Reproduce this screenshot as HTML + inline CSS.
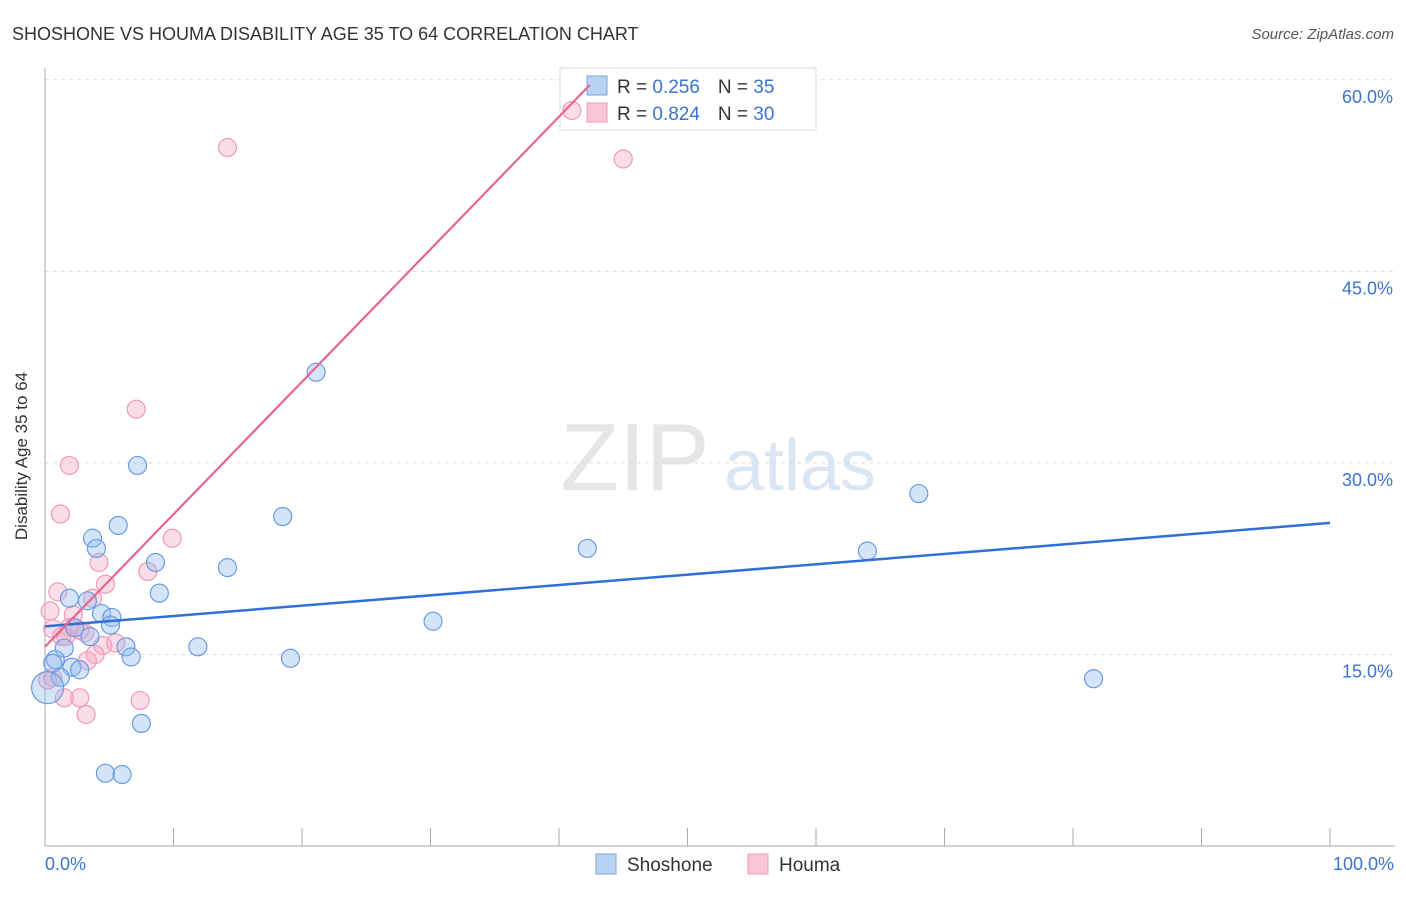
<!DOCTYPE html>
<html><head><meta charset="utf-8"><style>
body{margin:0;background:#fff;font-family:"Liberation Sans",sans-serif;}
svg text{font-family:"Liberation Sans",sans-serif;}
</style></head><body>
<svg width="1406" height="892">
<text x="12" y="40" font-size="18" fill="#333">SHOSHONE VS HOUMA DISABILITY AGE 35 TO 64 CORRELATION CHART</text>
<text x="1394" y="39" font-size="15" fill="#555" text-anchor="end" font-style="italic">Source: ZipAtlas.com</text>
<text x="635" y="490" font-size="96" fill="#e6e6e6" font-family="Liberation Serif" text-anchor="middle">ZIP</text>
<text x="800" y="490" font-size="72" fill="#dbe6f5" text-anchor="middle">atlas</text>
<g id="grid"></g>
<g id="axes"></g>
<g>
<rect x="560" y="68" width="256" height="62" fill="#fff" stroke="#ddd"/>
<rect x="587" y="76" width="20" height="19" fill="#b9d3f5" stroke="#7ea6e0"/>
<rect x="587" y="103" width="20" height="19" fill="#f8c6d5" stroke="#f09ab5"/>
<text x="617" y="93" font-size="19" fill="#333">R = <tspan fill="#3b73d0">0.256</tspan><tspan dx="18">N = </tspan><tspan fill="#3b73d0"> 35</tspan></text>
<text x="617" y="120" font-size="19" fill="#333">R = <tspan fill="#3b73d0">0.824</tspan><tspan dx="18">N = </tspan><tspan fill="#3b73d0"> 30</tspan></text>
</g>
<g id="pts"></g>
<g id="lines"></g>
<text x="27" y="456" font-size="17" fill="#333" text-anchor="middle" transform="rotate(-90 27 456)">Disability Age 35 to 64</text>
<text x="45" y="870" font-size="18" fill="#3b73d0">0.0%</text>
<text x="1394" y="870" font-size="18" fill="#3b73d0" text-anchor="end">100.0%</text>
<g>
<rect x="596" y="854" width="20" height="20" fill="#b9d3f5" stroke="#7ea6e0"/>
<text x="627" y="871" font-size="19" fill="#333">Shoshone</text>
<rect x="748" y="854" width="20" height="20" fill="#f8c6d5" stroke="#f09ab5"/>
<text x="779" y="871" font-size="19" fill="#333">Houma</text>
</g>
</svg>
<script>
const yTicks=[15,30,45,60];
const xTicks=[0,10,20,30,40,50,60,70,80,90,100];
const blueX=[21.1,7.2,18.5,68.0,5.7,3.7,4.0,42.2,64.0,8.6,14.2,8.9,1.9,3.3,4.4,5.2,5.1,2.3,3.5,30.2,1.5,6.3,11.9,6.7,19.1,0.8,0.6,2.1,2.7,1.2,81.6,0.2,7.5,4.7,6.0];
const blueY=[37.1,29.8,25.8,27.6,25.1,24.1,23.3,23.3,23.1,22.2,21.8,19.8,19.4,19.2,18.2,17.9,17.3,17.1,16.4,17.6,15.5,15.6,15.6,14.8,14.7,14.6,14.3,14.0,13.8,13.2,13.1,12.4,9.6,5.7,5.6];
const pinkX=[14.2,45.0,41.0,7.1,1.9,1.2,9.9,4.2,8.0,4.7,1.0,3.7,0.4,2.2,1.9,0.6,1.6,3.1,4.5,5.5,3.9,3.3,0.6,2.7,1.5,7.4,3.2,0.2,2.7,1.3];
const pinkY=[54.7,53.8,57.6,34.2,29.8,26.0,24.1,22.2,21.5,20.5,19.9,19.4,18.4,18.1,17.1,17.0,16.4,16.7,15.7,15.9,15.0,14.5,13.2,11.6,11.6,11.4,10.3,13.0,16.9,16.4];
const blueLine=[[0,17.2],[100,25.3]];
const pinkLine=[[0,15.6],[42.4,59.6]];
const NS='http://www.w3.org/2000/svg';
const X=v=>45+v*12.85, Y=v=>846-v*12.77;
function mk(t,a,p){const e=document.createElementNS(NS,t);for(const k in a)e.setAttribute(k,a[k]);document.getElementById(p).appendChild(e);return e;}
yTicks.forEach(t=>{
 const l=mk('line',{x1:45,x2:1395,y1:Y(t),y2:Y(t),stroke:'#ddd','stroke-dasharray':'4 4'},'grid');
 
 
 const tx=mk('text',{x:1393,y:Y(t)+23,'font-size':18,fill:'#3b73d0','text-anchor':'end'},'grid');
 tx.textContent=t.toFixed(1)+'%';
 
 
});
let a=mk('line',{x1:45,x2:45,y1:68,y2:846,stroke:'#aaa'},'axes');


a=mk('line',{x1:45,x2:1395,y1:846,y2:846,stroke:'#aaa'},'axes');


xTicks.forEach(t=>{const l=mk('line',{x1:X(t),x2:X(t),y1:828,y2:846,stroke:'#aaa'},'axes');
 
 });
function pts(xs,ys,fill,st,name,bigOK){xs.forEach((x,i)=>{const big=bigOK&&(x<0.3&&ys[i]>12&&ys[i]<13.1);
 const c=mk('circle',{cx:X(x),cy:Y(ys[i]),r:big?16:9,fill:fill,stroke:st,'stroke-width':1.2},'pts');
 
 });}
pts(pinkX,pinkY,'rgba(246,170,195,0.4)','#f09ab5','houma-point',false);
pts(blueX,blueY,'rgba(147,187,240,0.4)','#6a9be0','shoshone-point',true);
let l=mk('line',{x1:X(blueLine[0][0]),y1:Y(blueLine[0][1]),x2:X(blueLine[1][0]),y2:Y(blueLine[1][1]),stroke:'#2f6fd6','stroke-width':2.5},'lines');


l=mk('line',{x1:X(pinkLine[0][0]),y1:Y(pinkLine[0][1]),x2:X(pinkLine[1][0]),y2:Y(pinkLine[1][1]),stroke:'#e8668e','stroke-width':2.2},'lines');


</script>
</body></html>
